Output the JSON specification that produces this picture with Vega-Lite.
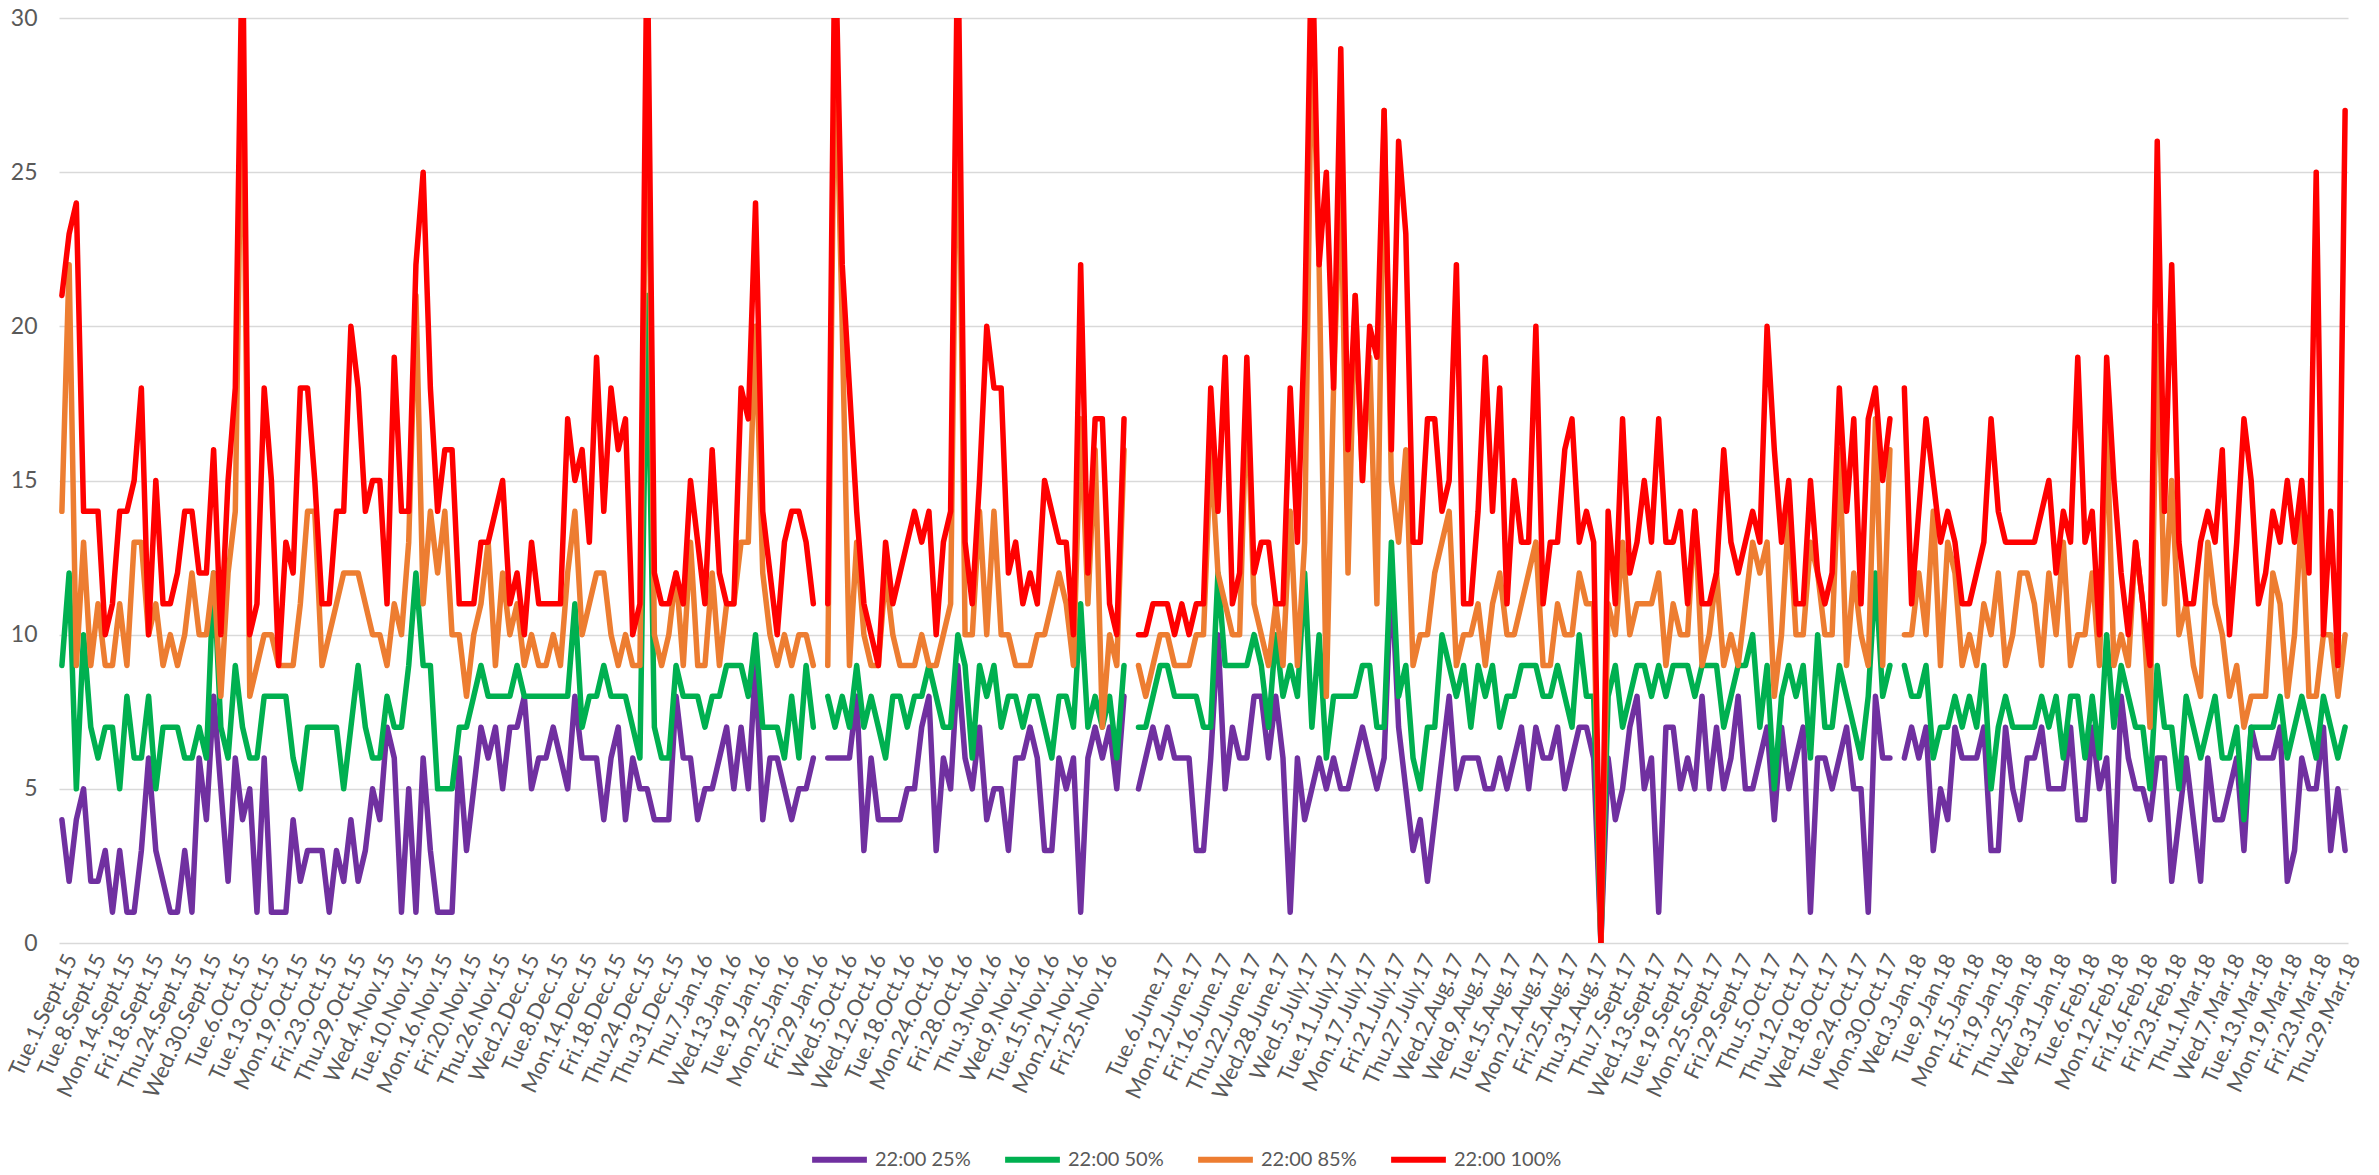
{
"$schema": "https://vega.github.io/schema/vega-lite/v6.json",
"autosize": "none",
"width": 2289,
"height": 925,
"padding": {"left": 59, "top": 18, "right": 31, "bottom": 232},
"background": "white",
"config": {"view": {"stroke": null}, "font": "Lato"},
"data": {"values": [
{"d":"Tue.1.Sept.15","22:00 25%":4,"22:00 50%":9,"22:00 85%":14,"22:00 100%":21},
{"d":"Wed.2.Sept.15","22:00 25%":2,"22:00 50%":12,"22:00 85%":22,"22:00 100%":23},
{"d":"Thu.3.Sept.15","22:00 25%":4,"22:00 50%":5,"22:00 85%":9,"22:00 100%":24},
{"d":"Fri.4.Sept.15","22:00 25%":5,"22:00 50%":10,"22:00 85%":13,"22:00 100%":14},
{"d":"Tue.8.Sept.15","22:00 25%":2,"22:00 50%":7,"22:00 85%":9,"22:00 100%":14},
{"d":"Wed.9.Sept.15","22:00 25%":2,"22:00 50%":6,"22:00 85%":11,"22:00 100%":14},
{"d":"Thu.10.Sept.15","22:00 25%":3,"22:00 50%":7,"22:00 85%":9,"22:00 100%":10},
{"d":"Fri.11.Sept.15","22:00 25%":1,"22:00 50%":7,"22:00 85%":9,"22:00 100%":11},
{"d":"Mon.14.Sept.15","22:00 25%":3,"22:00 50%":5,"22:00 85%":11,"22:00 100%":14},
{"d":"Tue.15.Sept.15","22:00 25%":1,"22:00 50%":8,"22:00 85%":9,"22:00 100%":14},
{"d":"Wed.16.Sept.15","22:00 25%":1,"22:00 50%":6,"22:00 85%":13,"22:00 100%":15},
{"d":"Thu.17.Sept.15","22:00 25%":3,"22:00 50%":6,"22:00 85%":13,"22:00 100%":18},
{"d":"Fri.18.Sept.15","22:00 25%":6,"22:00 50%":8,"22:00 85%":10,"22:00 100%":10},
{"d":"Mon.21.Sept.15","22:00 25%":3,"22:00 50%":5,"22:00 85%":11,"22:00 100%":15},
{"d":"Tue.22.Sept.15","22:00 25%":2,"22:00 50%":7,"22:00 85%":9,"22:00 100%":11},
{"d":"Wed.23.Sept.15","22:00 25%":1,"22:00 50%":7,"22:00 85%":10,"22:00 100%":11},
{"d":"Thu.24.Sept.15","22:00 25%":1,"22:00 50%":7,"22:00 85%":9,"22:00 100%":12},
{"d":"Fri.25.Sept.15","22:00 25%":3,"22:00 50%":6,"22:00 85%":10,"22:00 100%":14},
{"d":"Mon.28.Sept.15","22:00 25%":1,"22:00 50%":6,"22:00 85%":12,"22:00 100%":14},
{"d":"Tue.29.Sept.15","22:00 25%":6,"22:00 50%":7,"22:00 85%":10,"22:00 100%":12},
{"d":"Wed.30.Sept.15","22:00 25%":4,"22:00 50%":6,"22:00 85%":10,"22:00 100%":12},
{"d":"Thu.1.Oct.15","22:00 25%":8,"22:00 50%":12,"22:00 85%":12,"22:00 100%":16},
{"d":"Fri.2.Oct.15","22:00 25%":5,"22:00 50%":7,"22:00 85%":8,"22:00 100%":10},
{"d":"Mon.5.Oct.15","22:00 25%":2,"22:00 50%":6,"22:00 85%":12,"22:00 100%":15},
{"d":"Tue.6.Oct.15","22:00 25%":6,"22:00 50%":9,"22:00 85%":14,"22:00 100%":18},
{"d":"Wed.7.Oct.15","22:00 25%":4,"22:00 50%":7,"22:00 85%":30,"22:00 100%":33},
{"d":"Thu.8.Oct.15","22:00 25%":5,"22:00 50%":6,"22:00 85%":8,"22:00 100%":10},
{"d":"Fri.9.Oct.15","22:00 25%":1,"22:00 50%":6,"22:00 85%":9,"22:00 100%":11},
{"d":"Tue.13.Oct.15","22:00 25%":6,"22:00 50%":8,"22:00 85%":10,"22:00 100%":18},
{"d":"Wed.14.Oct.15","22:00 25%":1,"22:00 50%":8,"22:00 85%":10,"22:00 100%":15},
{"d":"Thu.15.Oct.15","22:00 25%":1,"22:00 50%":8,"22:00 85%":9,"22:00 100%":9},
{"d":"Fri.16.Oct.15","22:00 25%":1,"22:00 50%":8,"22:00 85%":9,"22:00 100%":13},
{"d":"Mon.19.Oct.15","22:00 25%":4,"22:00 50%":6,"22:00 85%":9,"22:00 100%":12},
{"d":"Tue.20.Oct.15","22:00 25%":2,"22:00 50%":5,"22:00 85%":11,"22:00 100%":18},
{"d":"Wed.21.Oct.15","22:00 25%":3,"22:00 50%":7,"22:00 85%":14,"22:00 100%":18},
{"d":"Thu.22.Oct.15","22:00 25%":3,"22:00 50%":7,"22:00 85%":14,"22:00 100%":15},
{"d":"Fri.23.Oct.15","22:00 25%":3,"22:00 50%":7,"22:00 85%":9,"22:00 100%":11},
{"d":"Mon.26.Oct.15","22:00 25%":1,"22:00 50%":7,"22:00 85%":10,"22:00 100%":11},
{"d":"Tue.27.Oct.15","22:00 25%":3,"22:00 50%":7,"22:00 85%":11,"22:00 100%":14},
{"d":"Wed.28.Oct.15","22:00 25%":2,"22:00 50%":5,"22:00 85%":12,"22:00 100%":14},
{"d":"Thu.29.Oct.15","22:00 25%":4,"22:00 50%":7,"22:00 85%":12,"22:00 100%":20},
{"d":"Fri.30.Oct.15","22:00 25%":2,"22:00 50%":9,"22:00 85%":12,"22:00 100%":18},
{"d":"Mon.2.Nov.15","22:00 25%":3,"22:00 50%":7,"22:00 85%":11,"22:00 100%":14},
{"d":"Tue.3.Nov.15","22:00 25%":5,"22:00 50%":6,"22:00 85%":10,"22:00 100%":15},
{"d":"Wed.4.Nov.15","22:00 25%":4,"22:00 50%":6,"22:00 85%":10,"22:00 100%":15},
{"d":"Thu.5.Nov.15","22:00 25%":7,"22:00 50%":8,"22:00 85%":9,"22:00 100%":11},
{"d":"Fri.6.Nov.15","22:00 25%":6,"22:00 50%":7,"22:00 85%":11,"22:00 100%":19},
{"d":"Mon.9.Nov.15","22:00 25%":1,"22:00 50%":7,"22:00 85%":10,"22:00 100%":14},
{"d":"Tue.10.Nov.15","22:00 25%":5,"22:00 50%":9,"22:00 85%":13,"22:00 100%":14},
{"d":"Wed.11.Nov.15","22:00 25%":1,"22:00 50%":12,"22:00 85%":21,"22:00 100%":22},
{"d":"Thu.12.Nov.15","22:00 25%":6,"22:00 50%":9,"22:00 85%":11,"22:00 100%":25},
{"d":"Fri.13.Nov.15","22:00 25%":3,"22:00 50%":9,"22:00 85%":14,"22:00 100%":18},
{"d":"Mon.16.Nov.15","22:00 25%":1,"22:00 50%":5,"22:00 85%":12,"22:00 100%":14},
{"d":"Tue.17.Nov.15","22:00 25%":1,"22:00 50%":5,"22:00 85%":14,"22:00 100%":16},
{"d":"Wed.18.Nov.15","22:00 25%":1,"22:00 50%":5,"22:00 85%":10,"22:00 100%":16},
{"d":"Thu.19.Nov.15","22:00 25%":6,"22:00 50%":7,"22:00 85%":10,"22:00 100%":11},
{"d":"Fri.20.Nov.15","22:00 25%":3,"22:00 50%":7,"22:00 85%":8,"22:00 100%":11},
{"d":"Mon.23.Nov.15","22:00 25%":5,"22:00 50%":8,"22:00 85%":10,"22:00 100%":11},
{"d":"Tue.24.Nov.15","22:00 25%":7,"22:00 50%":9,"22:00 85%":11,"22:00 100%":13},
{"d":"Wed.25.Nov.15","22:00 25%":6,"22:00 50%":8,"22:00 85%":13,"22:00 100%":13},
{"d":"Thu.26.Nov.15","22:00 25%":7,"22:00 50%":8,"22:00 85%":9,"22:00 100%":14},
{"d":"Fri.27.Nov.15","22:00 25%":5,"22:00 50%":8,"22:00 85%":12,"22:00 100%":15},
{"d":"Mon.30.Nov.15","22:00 25%":7,"22:00 50%":8,"22:00 85%":10,"22:00 100%":11},
{"d":"Tue.1.Dec.15","22:00 25%":7,"22:00 50%":9,"22:00 85%":11,"22:00 100%":12},
{"d":"Wed.2.Dec.15","22:00 25%":8,"22:00 50%":8,"22:00 85%":9,"22:00 100%":10},
{"d":"Thu.3.Dec.15","22:00 25%":5,"22:00 50%":8,"22:00 85%":10,"22:00 100%":13},
{"d":"Fri.4.Dec.15","22:00 25%":6,"22:00 50%":8,"22:00 85%":9,"22:00 100%":11},
{"d":"Mon.7.Dec.15","22:00 25%":6,"22:00 50%":8,"22:00 85%":9,"22:00 100%":11},
{"d":"Tue.8.Dec.15","22:00 25%":7,"22:00 50%":8,"22:00 85%":10,"22:00 100%":11},
{"d":"Wed.9.Dec.15","22:00 25%":6,"22:00 50%":8,"22:00 85%":9,"22:00 100%":11},
{"d":"Thu.10.Dec.15","22:00 25%":5,"22:00 50%":8,"22:00 85%":12,"22:00 100%":17},
{"d":"Fri.11.Dec.15","22:00 25%":8,"22:00 50%":11,"22:00 85%":14,"22:00 100%":15},
{"d":"Mon.14.Dec.15","22:00 25%":6,"22:00 50%":7,"22:00 85%":10,"22:00 100%":16},
{"d":"Tue.15.Dec.15","22:00 25%":6,"22:00 50%":8,"22:00 85%":11,"22:00 100%":13},
{"d":"Wed.16.Dec.15","22:00 25%":6,"22:00 50%":8,"22:00 85%":12,"22:00 100%":19},
{"d":"Thu.17.Dec.15","22:00 25%":4,"22:00 50%":9,"22:00 85%":12,"22:00 100%":14},
{"d":"Fri.18.Dec.15","22:00 25%":6,"22:00 50%":8,"22:00 85%":10,"22:00 100%":18},
{"d":"Mon.21.Dec.15","22:00 25%":7,"22:00 50%":8,"22:00 85%":9,"22:00 100%":16},
{"d":"Tue.22.Dec.15","22:00 25%":4,"22:00 50%":8,"22:00 85%":10,"22:00 100%":17},
{"d":"Wed.23.Dec.15","22:00 25%":6,"22:00 50%":7,"22:00 85%":9,"22:00 100%":10},
{"d":"Thu.24.Dec.15","22:00 25%":5,"22:00 50%":6,"22:00 85%":9,"22:00 100%":11},
{"d":"Mon.28.Dec.15","22:00 25%":5,"22:00 50%":21,"22:00 85%":30,"22:00 100%":33},
{"d":"Tue.29.Dec.15","22:00 25%":4,"22:00 50%":7,"22:00 85%":10,"22:00 100%":12},
{"d":"Wed.30.Dec.15","22:00 25%":4,"22:00 50%":6,"22:00 85%":9,"22:00 100%":11},
{"d":"Thu.31.Dec.15","22:00 25%":4,"22:00 50%":6,"22:00 85%":10,"22:00 100%":11},
{"d":"Mon.4.Jan.16","22:00 25%":8,"22:00 50%":9,"22:00 85%":12,"22:00 100%":12},
{"d":"Tue.5.Jan.16","22:00 25%":6,"22:00 50%":8,"22:00 85%":9,"22:00 100%":11},
{"d":"Wed.6.Jan.16","22:00 25%":6,"22:00 50%":8,"22:00 85%":13,"22:00 100%":15},
{"d":"Thu.7.Jan.16","22:00 25%":4,"22:00 50%":8,"22:00 85%":9,"22:00 100%":13},
{"d":"Fri.8.Jan.16","22:00 25%":5,"22:00 50%":7,"22:00 85%":9,"22:00 100%":11},
{"d":"Mon.11.Jan.16","22:00 25%":5,"22:00 50%":8,"22:00 85%":12,"22:00 100%":16},
{"d":"Tue.12.Jan.16","22:00 25%":6,"22:00 50%":8,"22:00 85%":9,"22:00 100%":12},
{"d":"Wed.13.Jan.16","22:00 25%":7,"22:00 50%":9,"22:00 85%":11,"22:00 100%":11},
{"d":"Thu.14.Jan.16","22:00 25%":5,"22:00 50%":9,"22:00 85%":11,"22:00 100%":11},
{"d":"Fri.15.Jan.16","22:00 25%":7,"22:00 50%":9,"22:00 85%":13,"22:00 100%":18},
{"d":"Mon.18.Jan.16","22:00 25%":5,"22:00 50%":8,"22:00 85%":13,"22:00 100%":17},
{"d":"Tue.19.Jan.16","22:00 25%":9,"22:00 50%":10,"22:00 85%":20,"22:00 100%":24},
{"d":"Wed.20.Jan.16","22:00 25%":4,"22:00 50%":7,"22:00 85%":12,"22:00 100%":14},
{"d":"Thu.21.Jan.16","22:00 25%":6,"22:00 50%":7,"22:00 85%":10,"22:00 100%":12},
{"d":"Fri.22.Jan.16","22:00 25%":6,"22:00 50%":7,"22:00 85%":9,"22:00 100%":10},
{"d":"Mon.25.Jan.16","22:00 25%":5,"22:00 50%":6,"22:00 85%":10,"22:00 100%":13},
{"d":"Tue.26.Jan.16","22:00 25%":4,"22:00 50%":8,"22:00 85%":9,"22:00 100%":14},
{"d":"Wed.27.Jan.16","22:00 25%":5,"22:00 50%":6,"22:00 85%":10,"22:00 100%":14},
{"d":"Thu.28.Jan.16","22:00 25%":5,"22:00 50%":9,"22:00 85%":10,"22:00 100%":13},
{"d":"Fri.29.Jan.16","22:00 25%":6,"22:00 50%":7,"22:00 85%":9,"22:00 100%":11},
{"d":"  ","22:00 25%":null,"22:00 50%":null,"22:00 85%":null,"22:00 100%":null},
{"d":"Mon.3.Oct.16","22:00 25%":6,"22:00 50%":8,"22:00 85%":9,"22:00 100%":11},
{"d":"Tue.4.Oct.16","22:00 25%":6,"22:00 50%":7,"22:00 85%":30,"22:00 100%":33},
{"d":"Wed.5.Oct.16","22:00 25%":6,"22:00 50%":8,"22:00 85%":20,"22:00 100%":22},
{"d":"Thu.6.Oct.16","22:00 25%":6,"22:00 50%":7,"22:00 85%":9,"22:00 100%":18},
{"d":"Fri.7.Oct.16","22:00 25%":8,"22:00 50%":9,"22:00 85%":13,"22:00 100%":14},
{"d":"Tue.11.Oct.16","22:00 25%":3,"22:00 50%":7,"22:00 85%":10,"22:00 100%":11},
{"d":"Wed.12.Oct.16","22:00 25%":6,"22:00 50%":8,"22:00 85%":9,"22:00 100%":10},
{"d":"Thu.13.Oct.16","22:00 25%":4,"22:00 50%":7,"22:00 85%":9,"22:00 100%":9},
{"d":"Fri.14.Oct.16","22:00 25%":4,"22:00 50%":6,"22:00 85%":12,"22:00 100%":13},
{"d":"Mon.17.Oct.16","22:00 25%":4,"22:00 50%":8,"22:00 85%":10,"22:00 100%":11},
{"d":"Tue.18.Oct.16","22:00 25%":4,"22:00 50%":8,"22:00 85%":9,"22:00 100%":12},
{"d":"Wed.19.Oct.16","22:00 25%":5,"22:00 50%":7,"22:00 85%":9,"22:00 100%":13},
{"d":"Thu.20.Oct.16","22:00 25%":5,"22:00 50%":8,"22:00 85%":9,"22:00 100%":14},
{"d":"Fri.21.Oct.16","22:00 25%":7,"22:00 50%":8,"22:00 85%":10,"22:00 100%":13},
{"d":"Mon.24.Oct.16","22:00 25%":8,"22:00 50%":9,"22:00 85%":9,"22:00 100%":14},
{"d":"Tue.25.Oct.16","22:00 25%":3,"22:00 50%":8,"22:00 85%":9,"22:00 100%":10},
{"d":"Wed.26.Oct.16","22:00 25%":6,"22:00 50%":7,"22:00 85%":10,"22:00 100%":13},
{"d":"Thu.27.Oct.16","22:00 25%":5,"22:00 50%":7,"22:00 85%":11,"22:00 100%":14},
{"d":"Fri.28.Oct.16","22:00 25%":9,"22:00 50%":10,"22:00 85%":30,"22:00 100%":33},
{"d":"Mon.31.Oct.16","22:00 25%":6,"22:00 50%":9,"22:00 85%":10,"22:00 100%":13},
{"d":"Tue.1.Nov.16","22:00 25%":5,"22:00 50%":6,"22:00 85%":10,"22:00 100%":11},
{"d":"Wed.2.Nov.16","22:00 25%":7,"22:00 50%":9,"22:00 85%":14,"22:00 100%":15},
{"d":"Thu.3.Nov.16","22:00 25%":4,"22:00 50%":8,"22:00 85%":10,"22:00 100%":20},
{"d":"Fri.4.Nov.16","22:00 25%":5,"22:00 50%":9,"22:00 85%":14,"22:00 100%":18},
{"d":"Mon.7.Nov.16","22:00 25%":5,"22:00 50%":7,"22:00 85%":10,"22:00 100%":18},
{"d":"Tue.8.Nov.16","22:00 25%":3,"22:00 50%":8,"22:00 85%":10,"22:00 100%":12},
{"d":"Wed.9.Nov.16","22:00 25%":6,"22:00 50%":8,"22:00 85%":9,"22:00 100%":13},
{"d":"Thu.10.Nov.16","22:00 25%":6,"22:00 50%":7,"22:00 85%":9,"22:00 100%":11},
{"d":"Fri.11.Nov.16","22:00 25%":7,"22:00 50%":8,"22:00 85%":9,"22:00 100%":12},
{"d":"Mon.14.Nov.16","22:00 25%":6,"22:00 50%":8,"22:00 85%":10,"22:00 100%":11},
{"d":"Tue.15.Nov.16","22:00 25%":3,"22:00 50%":7,"22:00 85%":10,"22:00 100%":15},
{"d":"Wed.16.Nov.16","22:00 25%":3,"22:00 50%":6,"22:00 85%":11,"22:00 100%":14},
{"d":"Thu.17.Nov.16","22:00 25%":6,"22:00 50%":8,"22:00 85%":12,"22:00 100%":13},
{"d":"Fri.18.Nov.16","22:00 25%":5,"22:00 50%":8,"22:00 85%":11,"22:00 100%":13},
{"d":"Mon.21.Nov.16","22:00 25%":6,"22:00 50%":7,"22:00 85%":9,"22:00 100%":10},
{"d":"Tue.22.Nov.16","22:00 25%":1,"22:00 50%":11,"22:00 85%":17,"22:00 100%":22},
{"d":"Wed.23.Nov.16","22:00 25%":6,"22:00 50%":7,"22:00 85%":11,"22:00 100%":12},
{"d":"Thu.24.Nov.16","22:00 25%":7,"22:00 50%":8,"22:00 85%":16,"22:00 100%":17},
{"d":"Fri.25.Nov.16","22:00 25%":6,"22:00 50%":7,"22:00 85%":7,"22:00 100%":17},
{"d":"Mon.28.Nov.16","22:00 25%":7,"22:00 50%":8,"22:00 85%":10,"22:00 100%":11},
{"d":"Tue.29.Nov.16","22:00 25%":5,"22:00 50%":6,"22:00 85%":9,"22:00 100%":10},
{"d":"Wed.30.Nov.16","22:00 25%":8,"22:00 50%":9,"22:00 85%":16,"22:00 100%":17},
{"d":" ","22:00 25%":null,"22:00 50%":null,"22:00 85%":null,"22:00 100%":null},
{"d":"Thu.1.June.17","22:00 25%":5,"22:00 50%":7,"22:00 85%":9,"22:00 100%":10},
{"d":"Fri.2.June.17","22:00 25%":6,"22:00 50%":7,"22:00 85%":8,"22:00 100%":10},
{"d":"Mon.5.June.17","22:00 25%":7,"22:00 50%":8,"22:00 85%":9,"22:00 100%":11},
{"d":"Tue.6.June.17","22:00 25%":6,"22:00 50%":9,"22:00 85%":10,"22:00 100%":11},
{"d":"Wed.7.June.17","22:00 25%":7,"22:00 50%":9,"22:00 85%":10,"22:00 100%":11},
{"d":"Thu.8.June.17","22:00 25%":6,"22:00 50%":8,"22:00 85%":9,"22:00 100%":10},
{"d":"Fri.9.June.17","22:00 25%":6,"22:00 50%":8,"22:00 85%":9,"22:00 100%":11},
{"d":"Mon.12.June.17","22:00 25%":6,"22:00 50%":8,"22:00 85%":9,"22:00 100%":10},
{"d":"Tue.13.June.17","22:00 25%":3,"22:00 50%":8,"22:00 85%":10,"22:00 100%":11},
{"d":"Wed.14.June.17","22:00 25%":3,"22:00 50%":7,"22:00 85%":10,"22:00 100%":11},
{"d":"Thu.15.June.17","22:00 25%":6,"22:00 50%":7,"22:00 85%":16,"22:00 100%":18},
{"d":"Fri.16.June.17","22:00 25%":10,"22:00 50%":12,"22:00 85%":12,"22:00 100%":14},
{"d":"Mon.19.June.17","22:00 25%":5,"22:00 50%":9,"22:00 85%":11,"22:00 100%":19},
{"d":"Tue.20.June.17","22:00 25%":7,"22:00 50%":9,"22:00 85%":10,"22:00 100%":11},
{"d":"Wed.21.June.17","22:00 25%":6,"22:00 50%":9,"22:00 85%":10,"22:00 100%":12},
{"d":"Thu.22.June.17","22:00 25%":6,"22:00 50%":9,"22:00 85%":18,"22:00 100%":19},
{"d":"Fri.23.June.17","22:00 25%":8,"22:00 50%":10,"22:00 85%":11,"22:00 100%":12},
{"d":"Mon.26.June.17","22:00 25%":8,"22:00 50%":9,"22:00 85%":10,"22:00 100%":13},
{"d":"Tue.27.June.17","22:00 25%":6,"22:00 50%":7,"22:00 85%":9,"22:00 100%":13},
{"d":"Wed.28.June.17","22:00 25%":8,"22:00 50%":10,"22:00 85%":11,"22:00 100%":11},
{"d":"Thu.29.June.17","22:00 25%":6,"22:00 50%":8,"22:00 85%":9,"22:00 100%":11},
{"d":"Fri.30.June.17","22:00 25%":1,"22:00 50%":9,"22:00 85%":14,"22:00 100%":18},
{"d":"Mon.3.July.17","22:00 25%":6,"22:00 50%":8,"22:00 85%":9,"22:00 100%":13},
{"d":"Wed.5.July.17","22:00 25%":4,"22:00 50%":12,"22:00 85%":13,"22:00 100%":20},
{"d":"Thu.6.July.17","22:00 25%":5,"22:00 50%":7,"22:00 85%":30,"22:00 100%":33},
{"d":"Fri.7.July.17","22:00 25%":6,"22:00 50%":10,"22:00 85%":22,"22:00 100%":22},
{"d":"Mon.10.July.17","22:00 25%":5,"22:00 50%":6,"22:00 85%":8,"22:00 100%":25},
{"d":"Tue.11.July.17","22:00 25%":6,"22:00 50%":8,"22:00 85%":18,"22:00 100%":18},
{"d":"Wed.12.July.17","22:00 25%":5,"22:00 50%":8,"22:00 85%":25,"22:00 100%":29},
{"d":"Thu.13.July.17","22:00 25%":5,"22:00 50%":8,"22:00 85%":12,"22:00 100%":16},
{"d":"Fri.14.July.17","22:00 25%":6,"22:00 50%":8,"22:00 85%":21,"22:00 100%":21},
{"d":"Mon.17.July.17","22:00 25%":7,"22:00 50%":9,"22:00 85%":15,"22:00 100%":15},
{"d":"Tue.18.July.17","22:00 25%":6,"22:00 50%":9,"22:00 85%":19,"22:00 100%":20},
{"d":"Wed.19.July.17","22:00 25%":5,"22:00 50%":7,"22:00 85%":11,"22:00 100%":19},
{"d":"Thu.20.July.17","22:00 25%":6,"22:00 50%":7,"22:00 85%":27,"22:00 100%":27},
{"d":"Fri.21.July.17","22:00 25%":12,"22:00 50%":13,"22:00 85%":15,"22:00 100%":16},
{"d":"Mon.24.July.17","22:00 25%":7,"22:00 50%":8,"22:00 85%":13,"22:00 100%":26},
{"d":"Tue.25.July.17","22:00 25%":5,"22:00 50%":9,"22:00 85%":16,"22:00 100%":23},
{"d":"Wed.26.July.17","22:00 25%":3,"22:00 50%":6,"22:00 85%":9,"22:00 100%":13},
{"d":"Thu.27.July.17","22:00 25%":4,"22:00 50%":5,"22:00 85%":10,"22:00 100%":13},
{"d":"Fri.28.July.17","22:00 25%":2,"22:00 50%":7,"22:00 85%":10,"22:00 100%":17},
{"d":"Mon.31.July.17","22:00 25%":4,"22:00 50%":7,"22:00 85%":12,"22:00 100%":17},
{"d":"Tue.1.Aug.17","22:00 25%":6,"22:00 50%":10,"22:00 85%":13,"22:00 100%":14},
{"d":"Wed.2.Aug.17","22:00 25%":8,"22:00 50%":9,"22:00 85%":14,"22:00 100%":15},
{"d":"Thu.3.Aug.17","22:00 25%":5,"22:00 50%":8,"22:00 85%":9,"22:00 100%":22},
{"d":"Fri.4.Aug.17","22:00 25%":6,"22:00 50%":9,"22:00 85%":10,"22:00 100%":11},
{"d":"Tue.8.Aug.17","22:00 25%":6,"22:00 50%":7,"22:00 85%":10,"22:00 100%":11},
{"d":"Wed.9.Aug.17","22:00 25%":6,"22:00 50%":9,"22:00 85%":11,"22:00 100%":14},
{"d":"Thu.10.Aug.17","22:00 25%":5,"22:00 50%":8,"22:00 85%":9,"22:00 100%":19},
{"d":"Fri.11.Aug.17","22:00 25%":5,"22:00 50%":9,"22:00 85%":11,"22:00 100%":14},
{"d":"Mon.14.Aug.17","22:00 25%":6,"22:00 50%":7,"22:00 85%":12,"22:00 100%":18},
{"d":"Tue.15.Aug.17","22:00 25%":5,"22:00 50%":8,"22:00 85%":10,"22:00 100%":11},
{"d":"Wed.16.Aug.17","22:00 25%":6,"22:00 50%":8,"22:00 85%":10,"22:00 100%":15},
{"d":"Thu.17.Aug.17","22:00 25%":7,"22:00 50%":9,"22:00 85%":11,"22:00 100%":13},
{"d":"Fri.18.Aug.17","22:00 25%":5,"22:00 50%":9,"22:00 85%":12,"22:00 100%":13},
{"d":"Mon.21.Aug.17","22:00 25%":7,"22:00 50%":9,"22:00 85%":13,"22:00 100%":20},
{"d":"Tue.22.Aug.17","22:00 25%":6,"22:00 50%":8,"22:00 85%":9,"22:00 100%":11},
{"d":"Wed.23.Aug.17","22:00 25%":6,"22:00 50%":8,"22:00 85%":9,"22:00 100%":13},
{"d":"Thu.24.Aug.17","22:00 25%":7,"22:00 50%":9,"22:00 85%":11,"22:00 100%":13},
{"d":"Fri.25.Aug.17","22:00 25%":5,"22:00 50%":8,"22:00 85%":10,"22:00 100%":16},
{"d":"Mon.28.Aug.17","22:00 25%":6,"22:00 50%":7,"22:00 85%":10,"22:00 100%":17},
{"d":"Tue.29.Aug.17","22:00 25%":7,"22:00 50%":10,"22:00 85%":12,"22:00 100%":13},
{"d":"Wed.30.Aug.17","22:00 25%":7,"22:00 50%":8,"22:00 85%":11,"22:00 100%":14},
{"d":"Thu.31.Aug.17","22:00 25%":6,"22:00 50%":8,"22:00 85%":11,"22:00 100%":13},
{"d":"Fri.1.Sept.17","22:00 25%":0,"22:00 50%":0,"22:00 85%":0,"22:00 100%":0},
{"d":"Tue.5.Sept.17","22:00 25%":6,"22:00 50%":8,"22:00 85%":11,"22:00 100%":14},
{"d":"Wed.6.Sept.17","22:00 25%":4,"22:00 50%":9,"22:00 85%":10,"22:00 100%":11},
{"d":"Thu.7.Sept.17","22:00 25%":5,"22:00 50%":7,"22:00 85%":13,"22:00 100%":17},
{"d":"Fri.8.Sept.17","22:00 25%":7,"22:00 50%":8,"22:00 85%":10,"22:00 100%":12},
{"d":"Mon.11.Sept.17","22:00 25%":8,"22:00 50%":9,"22:00 85%":11,"22:00 100%":13},
{"d":"Tue.12.Sept.17","22:00 25%":5,"22:00 50%":9,"22:00 85%":11,"22:00 100%":15},
{"d":"Wed.13.Sept.17","22:00 25%":6,"22:00 50%":8,"22:00 85%":11,"22:00 100%":13},
{"d":"Thu.14.Sept.17","22:00 25%":1,"22:00 50%":9,"22:00 85%":12,"22:00 100%":17},
{"d":"Fri.15.Sept.17","22:00 25%":7,"22:00 50%":8,"22:00 85%":9,"22:00 100%":13},
{"d":"Mon.18.Sept.17","22:00 25%":7,"22:00 50%":9,"22:00 85%":11,"22:00 100%":13},
{"d":"Tue.19.Sept.17","22:00 25%":5,"22:00 50%":9,"22:00 85%":10,"22:00 100%":14},
{"d":"Wed.20.Sept.17","22:00 25%":6,"22:00 50%":9,"22:00 85%":10,"22:00 100%":11},
{"d":"Thu.21.Sept.17","22:00 25%":5,"22:00 50%":8,"22:00 85%":14,"22:00 100%":14},
{"d":"Fri.22.Sept.17","22:00 25%":8,"22:00 50%":9,"22:00 85%":9,"22:00 100%":11},
{"d":"Mon.25.Sept.17","22:00 25%":5,"22:00 50%":9,"22:00 85%":10,"22:00 100%":11},
{"d":"Tue.26.Sept.17","22:00 25%":7,"22:00 50%":9,"22:00 85%":12,"22:00 100%":12},
{"d":"Wed.27.Sept.17","22:00 25%":5,"22:00 50%":7,"22:00 85%":9,"22:00 100%":16},
{"d":"Thu.28.Sept.17","22:00 25%":6,"22:00 50%":8,"22:00 85%":10,"22:00 100%":13},
{"d":"Fri.29.Sept.17","22:00 25%":8,"22:00 50%":9,"22:00 85%":9,"22:00 100%":12},
{"d":"Mon.2.Oct.17","22:00 25%":5,"22:00 50%":9,"22:00 85%":11,"22:00 100%":13},
{"d":"Tue.3.Oct.17","22:00 25%":5,"22:00 50%":10,"22:00 85%":13,"22:00 100%":14},
{"d":"Wed.4.Oct.17","22:00 25%":6,"22:00 50%":7,"22:00 85%":12,"22:00 100%":13},
{"d":"Thu.5.Oct.17","22:00 25%":7,"22:00 50%":9,"22:00 85%":13,"22:00 100%":20},
{"d":"Fri.6.Oct.17","22:00 25%":4,"22:00 50%":5,"22:00 85%":8,"22:00 100%":16},
{"d":"Tue.10.Oct.17","22:00 25%":7,"22:00 50%":8,"22:00 85%":10,"22:00 100%":13},
{"d":"Wed.11.Oct.17","22:00 25%":5,"22:00 50%":9,"22:00 85%":14,"22:00 100%":15},
{"d":"Thu.12.Oct.17","22:00 25%":6,"22:00 50%":8,"22:00 85%":10,"22:00 100%":11},
{"d":"Fri.13.Oct.17","22:00 25%":7,"22:00 50%":9,"22:00 85%":10,"22:00 100%":11},
{"d":"Mon.16.Oct.17","22:00 25%":1,"22:00 50%":6,"22:00 85%":13,"22:00 100%":15},
{"d":"Tue.17.Oct.17","22:00 25%":6,"22:00 50%":10,"22:00 85%":12,"22:00 100%":12},
{"d":"Wed.18.Oct.17","22:00 25%":6,"22:00 50%":7,"22:00 85%":10,"22:00 100%":11},
{"d":"Thu.19.Oct.17","22:00 25%":5,"22:00 50%":7,"22:00 85%":10,"22:00 100%":12},
{"d":"Fri.20.Oct.17","22:00 25%":6,"22:00 50%":9,"22:00 85%":16,"22:00 100%":18},
{"d":"Mon.23.Oct.17","22:00 25%":7,"22:00 50%":8,"22:00 85%":9,"22:00 100%":14},
{"d":"Tue.24.Oct.17","22:00 25%":5,"22:00 50%":7,"22:00 85%":12,"22:00 100%":17},
{"d":"Wed.25.Oct.17","22:00 25%":5,"22:00 50%":6,"22:00 85%":10,"22:00 100%":11},
{"d":"Thu.26.Oct.17","22:00 25%":1,"22:00 50%":8,"22:00 85%":9,"22:00 100%":17},
{"d":"Fri.27.Oct.17","22:00 25%":8,"22:00 50%":12,"22:00 85%":17,"22:00 100%":18},
{"d":"Mon.30.Oct.17","22:00 25%":6,"22:00 50%":8,"22:00 85%":9,"22:00 100%":15},
{"d":"Tue.31.Oct.17","22:00 25%":6,"22:00 50%":9,"22:00 85%":16,"22:00 100%":17},
{"d":"   ","22:00 25%":null,"22:00 50%":null,"22:00 85%":null,"22:00 100%":null},
{"d":"Tue.2.Jan.18","22:00 25%":6,"22:00 50%":9,"22:00 85%":10,"22:00 100%":18},
{"d":"Wed.3.Jan.18","22:00 25%":7,"22:00 50%":8,"22:00 85%":10,"22:00 100%":11},
{"d":"Thu.4.Jan.18","22:00 25%":6,"22:00 50%":8,"22:00 85%":12,"22:00 100%":14},
{"d":"Fri.5.Jan.18","22:00 25%":7,"22:00 50%":9,"22:00 85%":10,"22:00 100%":17},
{"d":"Mon.8.Jan.18","22:00 25%":3,"22:00 50%":6,"22:00 85%":14,"22:00 100%":15},
{"d":"Tue.9.Jan.18","22:00 25%":5,"22:00 50%":7,"22:00 85%":9,"22:00 100%":13},
{"d":"Wed.10.Jan.18","22:00 25%":4,"22:00 50%":7,"22:00 85%":13,"22:00 100%":14},
{"d":"Thu.11.Jan.18","22:00 25%":7,"22:00 50%":8,"22:00 85%":12,"22:00 100%":13},
{"d":"Fri.12.Jan.18","22:00 25%":6,"22:00 50%":7,"22:00 85%":9,"22:00 100%":11},
{"d":"Mon.15.Jan.18","22:00 25%":6,"22:00 50%":8,"22:00 85%":10,"22:00 100%":11},
{"d":"Tue.16.Jan.18","22:00 25%":6,"22:00 50%":7,"22:00 85%":9,"22:00 100%":12},
{"d":"Wed.17.Jan.18","22:00 25%":7,"22:00 50%":9,"22:00 85%":11,"22:00 100%":13},
{"d":"Thu.18.Jan.18","22:00 25%":3,"22:00 50%":5,"22:00 85%":10,"22:00 100%":17},
{"d":"Fri.19.Jan.18","22:00 25%":3,"22:00 50%":7,"22:00 85%":12,"22:00 100%":14},
{"d":"Mon.22.Jan.18","22:00 25%":7,"22:00 50%":8,"22:00 85%":9,"22:00 100%":13},
{"d":"Tue.23.Jan.18","22:00 25%":5,"22:00 50%":7,"22:00 85%":10,"22:00 100%":13},
{"d":"Wed.24.Jan.18","22:00 25%":4,"22:00 50%":7,"22:00 85%":12,"22:00 100%":13},
{"d":"Thu.25.Jan.18","22:00 25%":6,"22:00 50%":7,"22:00 85%":12,"22:00 100%":13},
{"d":"Fri.26.Jan.18","22:00 25%":6,"22:00 50%":7,"22:00 85%":11,"22:00 100%":13},
{"d":"Mon.29.Jan.18","22:00 25%":7,"22:00 50%":8,"22:00 85%":9,"22:00 100%":14},
{"d":"Tue.30.Jan.18","22:00 25%":5,"22:00 50%":7,"22:00 85%":12,"22:00 100%":15},
{"d":"Wed.31.Jan.18","22:00 25%":5,"22:00 50%":8,"22:00 85%":10,"22:00 100%":12},
{"d":"Thu.1.Feb.18","22:00 25%":5,"22:00 50%":6,"22:00 85%":13,"22:00 100%":14},
{"d":"Fri.2.Feb.18","22:00 25%":7,"22:00 50%":8,"22:00 85%":9,"22:00 100%":13},
{"d":"Mon.5.Feb.18","22:00 25%":4,"22:00 50%":8,"22:00 85%":10,"22:00 100%":19},
{"d":"Tue.6.Feb.18","22:00 25%":4,"22:00 50%":6,"22:00 85%":10,"22:00 100%":13},
{"d":"Wed.7.Feb.18","22:00 25%":7,"22:00 50%":8,"22:00 85%":12,"22:00 100%":14},
{"d":"Thu.8.Feb.18","22:00 25%":5,"22:00 50%":6,"22:00 85%":9,"22:00 100%":10},
{"d":"Fri.9.Feb.18","22:00 25%":6,"22:00 50%":10,"22:00 85%":17,"22:00 100%":19},
{"d":"Mon.12.Feb.18","22:00 25%":2,"22:00 50%":7,"22:00 85%":9,"22:00 100%":15},
{"d":"Tue.13.Feb.18","22:00 25%":8,"22:00 50%":9,"22:00 85%":10,"22:00 100%":12},
{"d":"Wed.14.Feb.18","22:00 25%":6,"22:00 50%":8,"22:00 85%":9,"22:00 100%":10},
{"d":"Thu.15.Feb.18","22:00 25%":5,"22:00 50%":7,"22:00 85%":13,"22:00 100%":13},
{"d":"Fri.16.Feb.18","22:00 25%":5,"22:00 50%":7,"22:00 85%":11,"22:00 100%":11},
{"d":"Tue.20.Feb.18","22:00 25%":4,"22:00 50%":5,"22:00 85%":7,"22:00 100%":9},
{"d":"Wed.21.Feb.18","22:00 25%":6,"22:00 50%":9,"22:00 85%":20,"22:00 100%":26},
{"d":"Thu.22.Feb.18","22:00 25%":6,"22:00 50%":7,"22:00 85%":11,"22:00 100%":14},
{"d":"Fri.23.Feb.18","22:00 25%":2,"22:00 50%":7,"22:00 85%":15,"22:00 100%":22},
{"d":"Mon.26.Feb.18","22:00 25%":4,"22:00 50%":5,"22:00 85%":10,"22:00 100%":13},
{"d":"Tue.27.Feb.18","22:00 25%":6,"22:00 50%":8,"22:00 85%":11,"22:00 100%":11},
{"d":"Wed.28.Feb.18","22:00 25%":4,"22:00 50%":7,"22:00 85%":9,"22:00 100%":11},
{"d":"Thu.1.Mar.18","22:00 25%":2,"22:00 50%":6,"22:00 85%":8,"22:00 100%":13},
{"d":"Fri.2.Mar.18","22:00 25%":6,"22:00 50%":7,"22:00 85%":13,"22:00 100%":14},
{"d":"Mon.5.Mar.18","22:00 25%":4,"22:00 50%":8,"22:00 85%":11,"22:00 100%":13},
{"d":"Tue.6.Mar.18","22:00 25%":4,"22:00 50%":6,"22:00 85%":10,"22:00 100%":16},
{"d":"Wed.7.Mar.18","22:00 25%":5,"22:00 50%":6,"22:00 85%":8,"22:00 100%":10},
{"d":"Thu.8.Mar.18","22:00 25%":6,"22:00 50%":7,"22:00 85%":9,"22:00 100%":13},
{"d":"Fri.9.Mar.18","22:00 25%":3,"22:00 50%":4,"22:00 85%":7,"22:00 100%":17},
{"d":"Mon.12.Mar.18","22:00 25%":7,"22:00 50%":7,"22:00 85%":8,"22:00 100%":15},
{"d":"Tue.13.Mar.18","22:00 25%":6,"22:00 50%":7,"22:00 85%":8,"22:00 100%":11},
{"d":"Wed.14.Mar.18","22:00 25%":6,"22:00 50%":7,"22:00 85%":8,"22:00 100%":12},
{"d":"Thu.15.Mar.18","22:00 25%":6,"22:00 50%":7,"22:00 85%":12,"22:00 100%":14},
{"d":"Fri.16.Mar.18","22:00 25%":7,"22:00 50%":8,"22:00 85%":11,"22:00 100%":13},
{"d":"Mon.19.Mar.18","22:00 25%":2,"22:00 50%":6,"22:00 85%":8,"22:00 100%":15},
{"d":"Tue.20.Mar.18","22:00 25%":3,"22:00 50%":7,"22:00 85%":10,"22:00 100%":13},
{"d":"Wed.21.Mar.18","22:00 25%":6,"22:00 50%":8,"22:00 85%":14,"22:00 100%":15},
{"d":"Thu.22.Mar.18","22:00 25%":5,"22:00 50%":7,"22:00 85%":8,"22:00 100%":12},
{"d":"Fri.23.Mar.18","22:00 25%":5,"22:00 50%":6,"22:00 85%":8,"22:00 100%":25},
{"d":"Mon.26.Mar.18","22:00 25%":7,"22:00 50%":8,"22:00 85%":10,"22:00 100%":10},
{"d":"Tue.27.Mar.18","22:00 25%":3,"22:00 50%":7,"22:00 85%":10,"22:00 100%":14},
{"d":"Wed.28.Mar.18","22:00 25%":5,"22:00 50%":6,"22:00 85%":8,"22:00 100%":9},
{"d":"Thu.29.Mar.18","22:00 25%":3,"22:00 50%":7,"22:00 85%":10,"22:00 100%":27}
]},
"transform": [
{"fold": ["22:00 25%", "22:00 50%", "22:00 85%", "22:00 100%"], "as": ["series", "value"]}
],
"mark": {"type": "line", "strokeWidth": 5.5, "strokeCap": "round", "strokeJoin": "round", "clip": true, "invalid": "break-paths-show-domains"},
"encoding": {
"x": {"field": "d", "type": "ordinal", "sort": null,
"scale": {"type": "point", "padding": 0.4},
"axis": {"title": null, "grid": false, "ticks": false, "domain": false, "labelAngle": -65, "labelAlign": "right", "labelBaseline": "middle", "labelPadding": 12, "labelOffset": 9, "labelFontSize": 22, "labelColor": "#595959", "labelFont": "Lato", "labelOverlap": false, "labelLimit": 300,
"values": ["Tue.1.Sept.15","Tue.8.Sept.15","Mon.14.Sept.15","Fri.18.Sept.15","Thu.24.Sept.15","Wed.30.Sept.15","Tue.6.Oct.15","Tue.13.Oct.15","Mon.19.Oct.15","Fri.23.Oct.15","Thu.29.Oct.15","Wed.4.Nov.15","Tue.10.Nov.15","Mon.16.Nov.15","Fri.20.Nov.15","Thu.26.Nov.15","Wed.2.Dec.15","Tue.8.Dec.15","Mon.14.Dec.15","Fri.18.Dec.15","Thu.24.Dec.15","Thu.31.Dec.15","Thu.7.Jan.16","Wed.13.Jan.16","Tue.19.Jan.16","Mon.25.Jan.16","Fri.29.Jan.16","Wed.5.Oct.16","Wed.12.Oct.16","Tue.18.Oct.16","Mon.24.Oct.16","Fri.28.Oct.16","Thu.3.Nov.16","Wed.9.Nov.16","Tue.15.Nov.16","Mon.21.Nov.16","Fri.25.Nov.16"," ","Tue.6.June.17","Mon.12.June.17","Fri.16.June.17","Thu.22.June.17","Wed.28.June.17","Wed.5.July.17","Tue.11.July.17","Mon.17.July.17","Fri.21.July.17","Thu.27.July.17","Wed.2.Aug.17","Wed.9.Aug.17","Tue.15.Aug.17","Mon.21.Aug.17","Fri.25.Aug.17","Thu.31.Aug.17","Thu.7.Sept.17","Wed.13.Sept.17","Tue.19.Sept.17","Mon.25.Sept.17","Fri.29.Sept.17","Thu.5.Oct.17","Thu.12.Oct.17","Wed.18.Oct.17","Tue.24.Oct.17","Mon.30.Oct.17","Wed.3.Jan.18","Tue.9.Jan.18","Mon.15.Jan.18","Fri.19.Jan.18","Thu.25.Jan.18","Wed.31.Jan.18","Tue.6.Feb.18","Mon.12.Feb.18","Fri.16.Feb.18","Fri.23.Feb.18","Thu.1.Mar.18","Wed.7.Mar.18","Tue.13.Mar.18","Mon.19.Mar.18","Fri.23.Mar.18","Thu.29.Mar.18"]}},
"y": {"field": "value", "type": "quantitative",
"scale": {"domain": [0, 30], "nice": false, "zero": true},
"axis": {"title": null, "values": [0, 5, 10, 15, 20, 25, 30], "grid": true, "gridColor": "#D9D9D9", "gridWidth": 1.5, "ticks": false, "domain": false, "labelPadding": 22, "labelFontSize": 23, "labelColor": "#595959", "labelFont": "Lato"}},
"color": {"field": "series", "type": "nominal",
"scale": {"domain": ["22:00 25%", "22:00 50%", "22:00 85%", "22:00 100%"], "range": ["#7030A0", "#00B050", "#ED7D31", "#FF0000"]},
"legend": {"title": null, "orient": "none", "direction": "horizontal", "legendX": 750, "legendY": 1111, "symbolType": "stroke", "symbolSize": 3000, "symbolStrokeWidth": 6, "labelFontSize": 20, "labelColor": "#595959", "labelFont": "Lato", "columnPadding": 22, "labelOffset": 5}}
}
}
